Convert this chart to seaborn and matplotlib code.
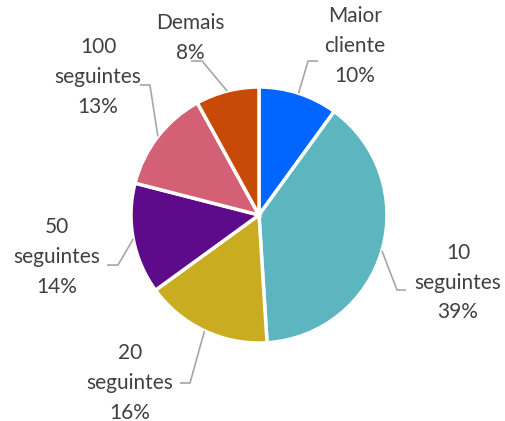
"""
Participação dos clientes - pizza com rótulos e linhas guia.
"""

import numpy as np
import matplotlib
matplotlib.use("Agg")
import matplotlib.pyplot as plt
import seaborn as sns

CATEGORIAS = ["Maior\ncliente", "10\nseguintes", "20\nseguintes",
              "50\nseguintes", "100\nseguintes", "Demais"]
VALORES    = [10, 39, 16, 14, 13, 8]
CORES      = ["#0066FF", "#5DB6BF", "#C9AC20", "#5E0B8B", "#D46075", "#C84A09"]

# posições dos rótulos (centro do texto), cotovelo e fim da linha guia
POS_TEXTO = [(0.75, 1.32), (1.555, -0.53), (-1.008, -1.312),
             (-1.578, -0.328), (-1.258, 1.078), (-0.539, 1.383)]
COTOVELO  = [(0.383, 1.203), (1.078, -0.586), (-0.539, -1.3125),
             (-1.102, -0.391), (-0.852, 1.016), (-0.445, 1.203)]
FIM_LINHA = [(0.461, 1.203), (1.148, -0.586), (-0.617, -1.3125),
             (-1.188, -0.391), (-0.93, 1.016), (-0.531, 1.203)]

W, H   = 506, 421
CX, CY = 259, 215
RAIO   = 128

sns.set_theme(style="white")
plt.rcParams["font.family"] = ["Lato", "DejaVu Sans"]

fig = plt.figure(figsize=(W / 100, H / 100), dpi=100)
ax = fig.add_axes([0, 0, 1, 1])

ax.pie(VALORES, colors=CORES, startangle=90, counterclock=False, radius=1,
       wedgeprops=dict(edgecolor="white", linewidth=2.5))

ax.set_xlim(-CX / RAIO, (W - CX) / RAIO)
ax.set_ylim(-(H - CY) / RAIO, CY / RAIO)
ax.set_aspect("equal")
ax.axis("off")

total = sum(VALORES)
acum = np.cumsum([0] + VALORES)
for i, (cat, v) in enumerate(zip(CATEGORIAS, VALORES)):
    meio = (acum[i] + v / 2) / total
    ang = np.deg2rad(90 - 360 * meio)
    borda = (np.cos(ang), np.sin(ang))
    xs = [borda[0], COTOVELO[i][0], FIM_LINHA[i][0]]
    ys = [borda[1], COTOVELO[i][1], FIM_LINHA[i][1]]
    ax.plot(xs, ys, color="#A6A6A6", lw=1.2, solid_capstyle="butt")
    ax.text(*POS_TEXTO[i], f"{cat}\n{round(100 * v / total)}%",
            ha="center", va="center", fontsize=15, color="#404040",
            linespacing=1.6)

fig.savefig("out.png", dpi=100)
